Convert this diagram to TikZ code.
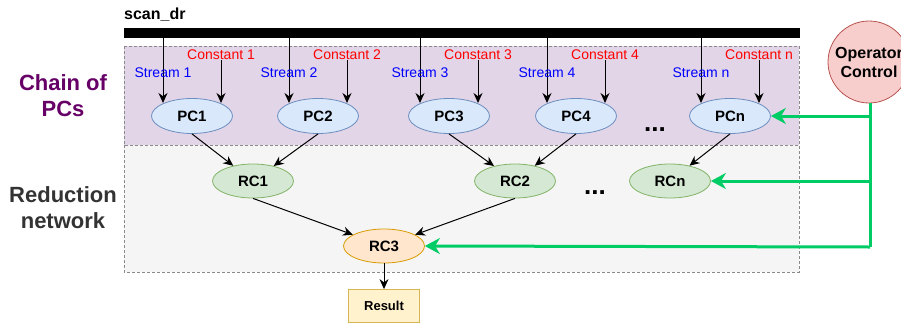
\documentclass[tikz,border=0pt]{standalone}
\usepackage{fontspec}
\setmainfont{Liberation Sans}
\usetikzlibrary{shapes.geometric,arrows.meta}
\definecolor{purfill}{HTML}{E1D5E7}
\definecolor{grayfill}{HTML}{F5F5F5}
\definecolor{regborder}{HTML}{8A8A8A}
\definecolor{pcfill}{HTML}{DAE8FC}
\definecolor{pcdraw}{HTML}{6C8EBF}
\definecolor{rcfill}{HTML}{D5E8D4}
\definecolor{rcdraw}{HTML}{82B366}
\definecolor{orfill}{HTML}{FFE6CC}
\definecolor{ordraw}{HTML}{D79B00}
\definecolor{resfill}{HTML}{FFF2CC}
\definecolor{resdraw}{HTML}{D6B656}
\definecolor{opfill}{HTML}{F8CECC}
\definecolor{opdraw}{HTML}{B85450}
\definecolor{ctlgreen}{HTML}{00CC66}
\definecolor{chainpurple}{HTML}{660066}
\definecolor{darktext}{HTML}{333333}
\definecolor{constred}{HTML}{FF0000}
\definecolor{streamblue}{HTML}{0000FF}
\tikzset{
  region/.style={draw=regborder, line width=0.8pt, dash pattern=on 3pt off 2pt},
  pcnode/.style={ellipse, draw=pcdraw, fill=pcfill, line width=0.8pt, minimum width=81pt, minimum height=35pt, inner sep=0pt, font=\fontsize{15}{17}\selectfont\bfseries},
  rcnode/.style={ellipse, draw=rcdraw, fill=rcfill, line width=0.8pt, minimum width=81pt, minimum height=34pt, inner sep=0pt, font=\fontsize{15}{17}\selectfont\bfseries},
  rc3node/.style={rcnode, draw=ordraw, fill=orfill},
  resnode/.style={rectangle, draw=resdraw, fill=resfill, line width=0.8pt, minimum width=71pt, minimum height=33pt, inner sep=0pt, font=\fontsize{13}{15}\selectfont\bfseries},
  opnode/.style={circle, draw=opdraw, fill=opfill, line width=0.8pt, minimum size=82pt, inner sep=0pt, align=center, font=\fontsize{16}{19}\selectfont\bfseries},
  constlbl/.style={text=constred, font=\fontsize{14}{16}\selectfont, inner sep=0pt},
  streamlbl/.style={text=streamblue, font=\fontsize{14}{16}\selectfont, inner sep=0pt},
  sidelbl/.style={align=center, font=\fontsize{22}{26}\selectfont\bfseries},
  dotslbl/.style={font=\fontsize{26}{28}\selectfont\bfseries, inner sep=0pt, anchor=base},
  arr/.style={-{Stealth[length=10pt,width=9pt]}, line width=1pt, black},
  garr/.style={-{Stealth[length=15pt,width=16pt]}, line width=3pt, ctlgreen},
  gline/.style={line width=3pt, ctlgreen}
}
\begin{document}
\begin{tikzpicture}[x=1pt,y=-1pt]
\useasboundingbox (0,0) rectangle (901,324);
\clip (0,0) rectangle (901,324);

% regions
\fill[purfill] (124,46) rectangle (799,145);
\fill[grayfill] (124,145) rectangle (799,272);
\draw[region] (124,46) rectangle (799,145);
\draw[region] (124,145) rectangle (799,272);

% bus
\node[anchor=south west, inner sep=0pt, font=\fontsize{16}{18}\selectfont\bfseries] (scan) at (124,22) {scan\_dr};
\fill[black] (124,28) rectangle (800,38);

% PCs
\node[pcnode] (pc1) at (192,116) {PC1};
\node[pcnode] (pc2) at (318,116) {PC2};
\node[pcnode] (pc3) at (449,116) {PC3};
\node[pcnode] (pc4) at (576,116) {PC4};
\node[pcnode] (pcn) at (730,116) {PCn};
\node[dotslbl] (dots1) at (655,131) {...};

% stream / constant coordinates and arrows
\foreach \n/\lab in {pc1/1,pc2/2,pc3/3,pc4/4,pcn/n}{
  \path (\n.center) ++(-29,-13) coordinate (s\n);
  \path (\n.center) ++(29,-13) coordinate (c\n);
  \coordinate (stop\n) at (s\n |- 0,38);
  \coordinate (ctop\n) at (c\n |- 0,60);
  \draw[arr] (stop\n) -- (s\n);
  \draw[arr] (ctop\n) -- (c\n);
  \node[constlbl] (cl\n) at (c\n |- 0,55) {Constant \lab};
  \node[streamlbl] (sl\n) at (s\n |- 0,73) {Stream \lab};
}

% RCs
\node[rcnode] (rc1) at (253,181) {RC1};
\node[rcnode] (rc2) at (515,181) {RC2};
\node[rcnode] (rcn) at (670,181) {RCn};
\node[dotslbl] (dots2) at (595,194) {...};
\node[rc3node] (rc3) at (384,246) {RC3};
\node[resnode] (res) at (384,306) {Result};

\draw[arr] (pc1.south) -- (rc1);
\draw[arr] (pc2.south) -- (rc1);
\draw[arr] (pc3.south) -- (rc2);
\draw[arr] (pc4.south) -- (rc2);
\draw[arr] (pcn.south) -- (rcn);
\draw[arr] (rc1.south) -- (rc3);
\draw[arr] (rc2.south) -- (rc3);
\draw[arr] (rc3.south) -- (res.north);

% Operator control
\node[opnode] (op) at (869,62) {Operator\\Control};
\coordinate (gbot) at (870,247);
\draw[gline] (op.south -| gbot) -- (gbot);
\draw[garr] (gbot) -- (rc3.east);
\draw[garr] (gbot |- pcn.east) -- (pcn.east);
\draw[garr] (gbot |- rcn.east) -- (rcn.east);

% side labels
\node[sidelbl, text=chainpurple] (chain) at (63,96) {Chain of\\PCs};
\node[sidelbl, text=darktext] (red) at (63,208) {Reduction\\network};
\end{tikzpicture}
\end{document}
